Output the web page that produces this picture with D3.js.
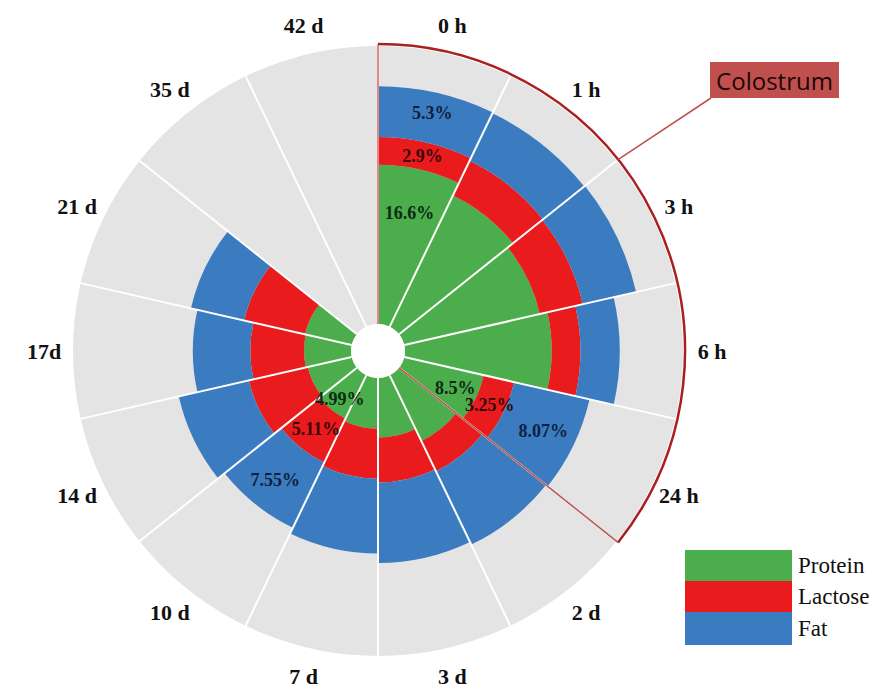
<!DOCTYPE html>
<html>
<head>
<meta charset="utf-8">
<script src="https://cdn.jsdelivr.net/npm/d3@7"></script>
<style>
  body { margin: 0; background: #fff; }
  svg { display: block; }
</style>
</head>
<body>
<svg id="chart" width="878" height="691"></svg>
<script>
// time points after farrowing, clockwise from 12 o'clock
const categories = ["0 h", "1 h", "3 h", "6 h", "24 h", "2 d", "3 d", "7 d", "10 d", "14 d", "17d", "21 d", "35 d", "42 d"];
// composition in % (35 d and 42 d are empty)
const protein = [16.6, 15.2, 14.5, 15.3, 8.5, 7.6, 6.2, 5.3, 4.99, 4.7, 4.9, 5.0, null, null];
const lactose = [2.9, 4.0, 4.6, 3.0, 3.25, 3.5, 4.7, 5.2, 5.11, 6.3, 5.6, 6.5, null, null];
const fat = [5.3, 5.5, 5.7, 4.1, 8.07, 8.5, 8.4, 7.8, 7.55, 7.5, 6.0, 5.7, null, null];
const labelled = ["0 h", "24 h", "10 d"];
const colostrum = ["0 h", "1 h", "3 h", "6 h", "24 h"];
const keys = ["protein", "lactose", "fat"];
const keyNames = ["Protein", "Lactose", "Fat"];
const colors = ["#4bad4b", "#e91b1d", "#3b7cc0"];
const labelColors = ["#0c2a12", "#3a0808", "#0f1f3f"];

const svg = d3.select("#chart");
const cx = 378, cy = 351;
const innerR = 27, outerR = 305;

const rows = categories.map(function (c, i) {
    return { cat: c, protein: protein[i] || 0, lactose: lactose[i] || 0, fat: fat[i] || 0 };
});

const x = d3.scaleBand().domain(categories).range([0, 2 * Math.PI]);
const y = d3.scaleLinear().domain([0, 29]).range([innerR, outerR]);
const color = d3.scaleOrdinal().domain(keys).range(colors);

const series = d3.stack().keys(keys)(rows);

const g = svg.append("g").attr("transform", "translate(" + cx + "," + cy + ")");

// grey background disc
g.append("path")
    .attr("d", d3.arc()({ innerRadius: innerR, outerRadius: outerR, startAngle: 0, endAngle: 2 * Math.PI }))
    .attr("fill", "#e4e4e4");

// stacked bars
const arc = d3.arc()
    .innerRadius(function (d) { return y(d[0]); })
    .outerRadius(function (d) { return y(d[1]); })
    .startAngle(function (d) { return x(d.data.cat); })
    .endAngle(function (d) { return x(d.data.cat) + x.bandwidth(); });

g.selectAll("g.layer")
    .data(series)
    .enter()
    .append("g")
    .attr("class", "layer")
    .attr("fill", function (d) { return color(d.key); })
    .selectAll("path")
    .data(function (d) { return d.filter(function (v) { return v[1] > v[0]; }); })
    .enter()
    .append("path")
    .attr("d", arc);

// white separators between sectors
function polar(a, r) {
    return [Math.sin(a) * r, -Math.cos(a) * r];
}
const edges = categories.map(function (c) { return x(c); });
const colStart = x(colostrum[0]);
const colEnd = x(colostrum[colostrum.length - 1]) + x.bandwidth();

g.selectAll("line.sep")
    .data(edges)
    .enter()
    .append("line")
    .attr("class", "sep")
    .attr("x1", function (a) { return polar(a, innerR)[0]; })
    .attr("y1", function (a) { return polar(a, innerR)[1]; })
    .attr("x2", function (a) { return polar(a, outerR)[0]; })
    .attr("y2", function (a) { return polar(a, outerR)[1]; })
    .attr("stroke", "#fff")
    .attr("stroke-width", 2);

// centre hole
g.append("circle").attr("r", innerR).attr("fill", "#fff");

// colostrum outline
[colStart, colEnd].forEach(function (a, i) {
    g.append("line")
        .attr("x1", polar(a, innerR)[0]).attr("y1", polar(a, innerR)[1])
        .attr("x2", polar(a, outerR + 2)[0]).attr("y2", polar(a, outerR + 2)[1])
        .attr("stroke", i === 0 ? "#d9605c" : "#b8524c")
        .attr("stroke-width", 1.5);
});
const p = d3.path();
p.arc(0, 0, outerR + 2, colStart - Math.PI / 2, colEnd - Math.PI / 2);
g.append("path")
    .attr("d", p.toString())
    .attr("fill", "none")
    .attr("stroke", "#a8201f")
    .attr("stroke-width", 2.5);

// callout to the Colostrum box
const calloutStart = polar(x("3 h"), outerR + 2);
const box = { x: 710, y: 62, w: 129, h: 36 };
svg.append("line")
    .attr("x1", cx + calloutStart[0]).attr("y1", cy + calloutStart[1])
    .attr("x2", box.x + 1).attr("y2", box.y + box.h)
    .attr("stroke", "#c0504d")
    .attr("stroke-width", 1.5);
svg.append("rect")
    .attr("x", box.x).attr("y", box.y)
    .attr("width", box.w).attr("height", box.h)
    .attr("fill", "#c0504d");
svg.append("text")
    .attr("x", box.x + box.w / 2).attr("y", box.y + box.h / 2)
    .attr("text-anchor", "middle")
    .attr("dominant-baseline", "central")
    .style("font-family", "'Open Sans', sans-serif")
    .style("font-size", "24px")
    .attr("fill", "#1e0606")
    .text("Colostrum");

// category labels
g.selectAll("text.cat")
    .data(categories)
    .enter()
    .append("text")
    .attr("class", "cat")
    .attr("x", function (c) { return polar(x(c) + x.bandwidth() / 2, 334)[0]; })
    .attr("y", function (c) { return polar(x(c) + x.bandwidth() / 2, 334)[1]; })
    .attr("text-anchor", "middle")
    .attr("dominant-baseline", "central")
    .style("font-family", "'Liberation Serif', serif")
    .style("font-weight", "bold")
    .style("font-size", "22px")
    .attr("fill", "#111")
    .text(function (c) { return c; });

// value labels on the annotated sectors
series.forEach(function (s, k) {
    s.filter(function (d) { return labelled.indexOf(d.data.cat) >= 0; }).forEach(function (d) {
        const a = x(d.data.cat) + x.bandwidth() / 2;
        const r = k === 0 ? y(d[1] * 0.72) : y((d[0] + d[1]) / 2) + (k === 2 ? 5 : 0);
        const pt = polar(a, r);
        g.append("text")
            .attr("x", pt[0]).attr("y", pt[1])
            .attr("text-anchor", "middle")
            .attr("dominant-baseline", "central")
            .style("font-family", "'Liberation Serif', serif")
            .style("font-weight", "bold")
            .style("font-size", "18px")
            .attr("fill", labelColors[k])
            .text(d.data[s.key] + "%");
    });
});

// legend
const legend = svg.append("g").attr("transform", "translate(685,550)");
const lh = [31, 31, 33];
let ly = 0;
keys.forEach(function (k, i) {
    legend.append("rect")
        .attr("x", 0).attr("y", ly)
        .attr("width", 107).attr("height", lh[i])
        .attr("fill", color(k));
    legend.append("text")
        .attr("x", 113).attr("y", ly + lh[i] / 2)
        .attr("dominant-baseline", "central")
        .style("font-family", "'Liberation Serif', serif")
        .style("font-size", "23px")
        .attr("fill", "#111")
        .text(keyNames[i]);
    ly += lh[i];
});
</script>
</body>
</html>
